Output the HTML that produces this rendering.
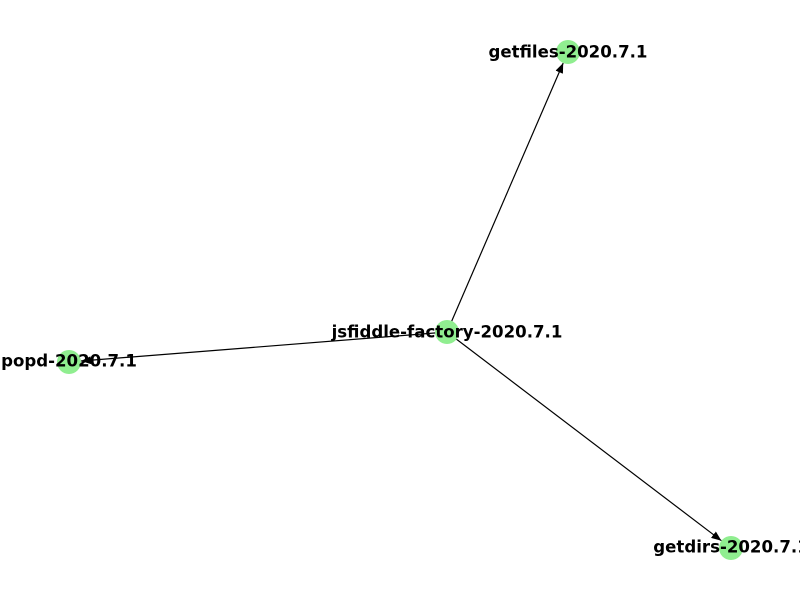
<!DOCTYPE html>
<html><head><meta charset="utf-8"><style>
html,body{margin:0;padding:0;background:#fff;}
svg{display:block;}
text{font-family:"DejaVu Sans","Liberation Sans",sans-serif;font-weight:bold;font-size:16.6px;fill:#000;}
</style></head><body>
<svg width="800" height="600" viewBox="0 0 800 600" xmlns="http://www.w3.org/2000/svg">
<defs>
<marker id="a" markerWidth="10" markerHeight="8" refX="10" refY="4" orient="auto" markerUnits="userSpaceOnUse">
<path d="M0,0 L10,4 L0,8 Z" fill="#000"/>
</marker>
</defs>
<g stroke="#000" stroke-width="1.2">
<line x1="447" y1="332" x2="563.2" y2="63" marker-end="url(#a)"/>
<line x1="447" y1="332" x2="721.4" y2="540.7" marker-end="url(#a)"/>
<line x1="447" y1="332" x2="81" y2="361" marker-end="url(#a)"/>
</g>
<g fill="#90ee90">
<circle cx="447" cy="332" r="12"/>
<circle cx="568" cy="52" r="12"/>
<circle cx="69" cy="362" r="12"/>
<circle cx="731" cy="548" r="12"/>
</g>
<g text-anchor="middle" dominant-baseline="central">
<text x="447" y="332">jsfiddle-factory-2020.7.1</text>
<text x="568" y="52">getfiles-2020.7.1</text>
<text x="69" y="361">popd-2020.7.1</text>
<text x="731" y="547">getdirs-2020.7.1</text>
</g>
</svg>
</body></html>
